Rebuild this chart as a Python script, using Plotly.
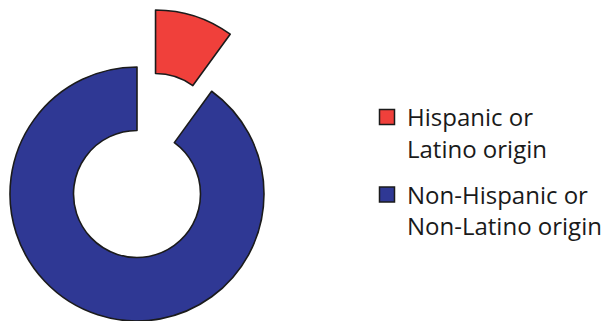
import math
import plotly.graph_objects as go

labels = ["Hispanic or<br>Latino origin", "Non-Hispanic or<br>Non-Latino origin"]
values = [10, 90]
colors = ["#F0403B", "#2F3894"]

W, H = 610, 321
cx, cy, r = 137, 194, 127      # pixel centre / radius of the main ring
pull_px = 60                   # pixel offset of the exploded slice

frac = values[0] / sum(values)
ang = math.radians(360 * frac / 2)
dx, dy = pull_px * math.sin(ang), pull_px * math.cos(ang)

def dom(x0, y0):
    return dict(x=[(x0 - r) / W, (x0 + r) / W],
                y=[(H - y0 - r) / H, (H - y0 + r) / H])

edge = "#1b1b1b"
clear = "rgba(0,0,0,0)"

fig = go.Figure()
# main ring: non-Hispanic slice visible
fig.add_trace(go.Pie(
    labels=labels, values=values, sort=False, direction="clockwise", rotation=0,
    hole=0.5, domain=dom(cx, cy), textinfo="none", hoverinfo="label+percent",
    marker=dict(colors=[clear, colors[1]], line=dict(color=[clear, edge], width=[0, 1.6])),
    showlegend=False,
))
# exploded slice
fig.add_trace(go.Pie(
    labels=labels, values=values, sort=False, direction="clockwise", rotation=0,
    hole=0.5, domain=dom(cx + dx, cy - dy), textinfo="none", hoverinfo="label+percent",
    marker=dict(colors=[colors[0], clear], line=dict(color=[edge, clear], width=[1.6, 0])),
    showlegend=False,
))
# legend entries
for i, (lab, col) in enumerate(zip(labels, colors)):
    fig.add_trace(go.Scatter(
        x=[None], y=[None], mode="markers", name=lab, legendgroup=f"g{i}",
        marker=dict(symbol="square", size=15, color=col, line=dict(color=edge, width=1.5)),
    ))

fig.update_layout(
    width=W, height=H, margin=dict(l=0, r=0, t=0, b=0),
    paper_bgcolor="white", plot_bgcolor="white",
    xaxis=dict(visible=False), yaxis=dict(visible=False),
    font=dict(family="Open Sans", size=24, color="#1a1a1a"),
    legend=dict(x=367 / W, y=(H - 95) / H, xanchor="left", yanchor="top",
                valign="top", tracegroupgap=12, bgcolor="rgba(0,0,0,0)",
                font=dict(family="Open Sans", size=24, weight=500, color="#1a1a1a")),
)

fig.write_html("out.html")
